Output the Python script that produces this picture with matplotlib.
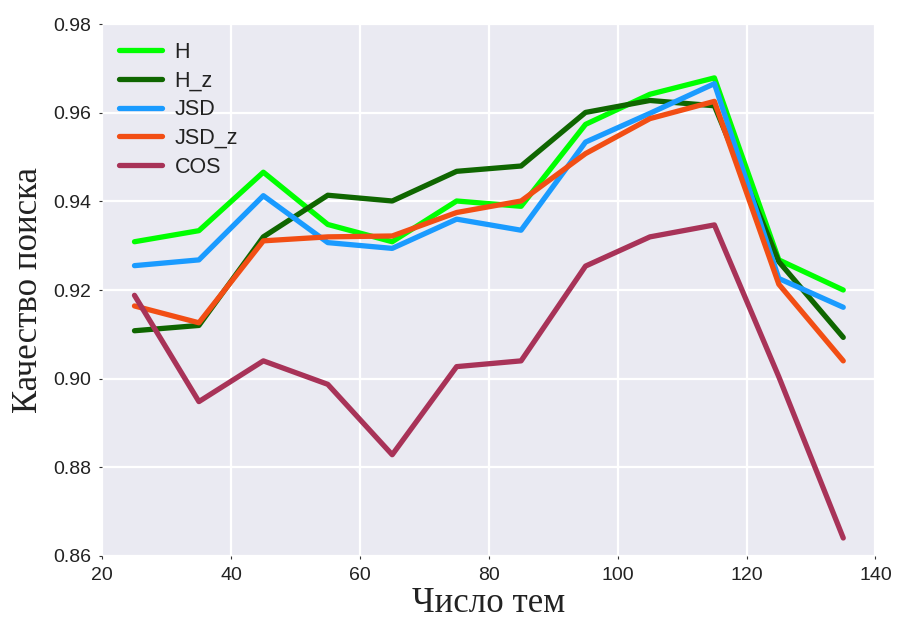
import numpy as np
import matplotlib.pyplot as plt

topics = [25, 35, 45, 55, 65, 75, 85, 95, 105, 115, 125, 135]
h_vals = [0.9309, 0.9334, 0.9466, 0.9348, 0.9309, 0.9401, 0.9389, 0.9574, 0.9642, 0.9679, 0.9268, 0.9200]
hz_vals = [0.9108, 0.9120, 0.9320, 0.9414, 0.9401, 0.9468, 0.9480, 0.9601, 0.9628, 0.9616, 0.9264, 0.9093]
jsd_vals = [0.9255, 0.9268, 0.9413, 0.9307, 0.9294, 0.9360, 0.9335, 0.9534, 0.9599, 0.9666, 0.9226, 0.9161]
jsdz_vals = [0.9164, 0.9126, 0.9311, 0.9320, 0.9322, 0.9375, 0.9401, 0.9508, 0.9587, 0.9626, 0.9213, 0.9040]
cos_vals = [0.9188, 0.8948, 0.9040, 0.8987, 0.8828, 0.9027, 0.9040, 0.9254, 0.9320, 0.9347, 0.9004, 0.8640]

names = ['H', 'H_z', 'JSD', 'JSD_z', 'COS']
colors = ['#00ff00', '#0f6600', '#1a9bff', '#f24e14', '#a83358']

fig = plt.figure(figsize=(8.97, 6.23), dpi=100)
ax = fig.add_axes([0.114, 0.108, 0.862, 0.853])
ax.set_facecolor('#eaeaf2')
for s in ax.spines.values():
    s.set_visible(False)
ax.grid(True, color='white', linewidth=1.6)
ax.set_axisbelow(True)

for vals, name, c in zip([h_vals, hz_vals, jsd_vals, jsdz_vals, cos_vals], names, colors):
    ax.plot(topics, vals, color=c, linewidth=3.8, label=name, solid_capstyle='round')

ax.set_xlim(20, 140)
ax.set_ylim(0.86, 0.98)
ax.set_xticks(np.arange(20, 141, 20))
ax.set_yticks(np.arange(0.86, 0.981, 0.02))
ax.set_yticklabels(['%.2f' % v for v in np.arange(0.86, 0.981, 0.02)])
ax.tick_params(axis='both', labelsize=14, length=2, width=0.8, color='#333333',
               labelcolor='#222222', pad=6)
for lbl in ax.get_xticklabels() + ax.get_yticklabels():
    lbl.set_family('Liberation Sans')

ax.set_xlabel('Число тем', fontsize=25, family='Liberation Serif', color='#222222', labelpad=2)
ax.set_ylabel('Качество поиска', fontsize=25, family='Liberation Serif', color='#222222', labelpad=6)

leg = ax.legend(loc='upper left', bbox_to_anchor=(-0.004, 1.004), frameon=False,
                handlelength=2.0, handletextpad=0.6, borderaxespad=0.5, labelspacing=0.36,
                prop={'family': 'Liberation Sans', 'size': 15.5})
for t in leg.get_texts():
    t.set_color('#222222')

fig.savefig('out.png', dpi=100)
